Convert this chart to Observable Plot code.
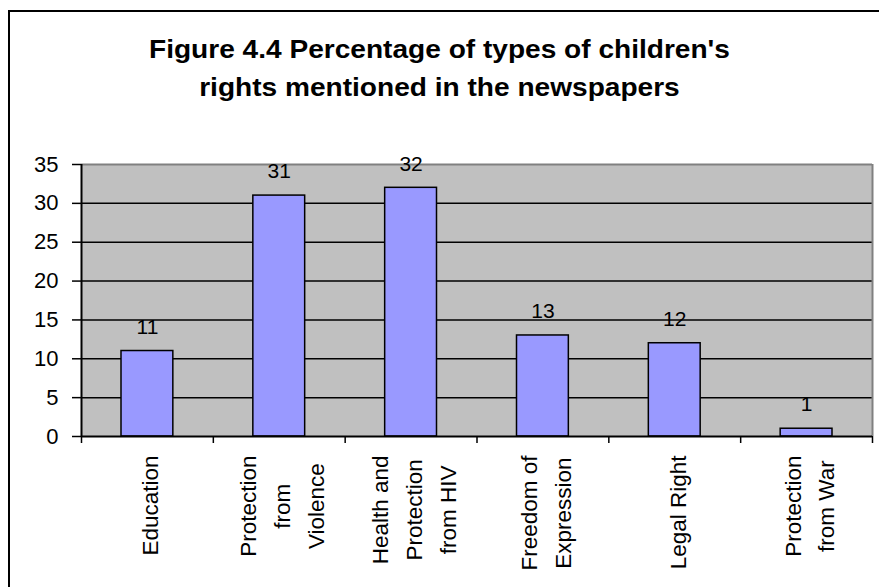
<!DOCTYPE html>
<html>
<head>
<meta charset="utf-8">
<script src="https://cdn.jsdelivr.net/npm/d3@7"></script>
<script src="https://cdn.jsdelivr.net/npm/@observablehq/plot@0.6"></script>
<style>
  html, body { margin: 0; padding: 0; background: #fff; }
  #wrap { position: relative; width: 879px; height: 587px; overflow: hidden; background: #fff; font-family: "Liberation Sans", Arial, sans-serif; }
  #border { position: absolute; left: 8px; top: 10px; width: 2000px; height: 2000px; border-left: 2px solid #000; border-top: 2px solid #000; }
  #title { position: absolute; left: 0; top: 30px; width: 879px; text-align: center; font-weight: bold; font-size: 26px; line-height: 38px; color: #000; transform: scaleX(1.08); transform-origin: 440px 0; }
  #chart { position: absolute; left: 0; top: 150px; }
</style>
</head>
<body>
<div id="wrap">
  <div id="border"></div>
  <div id="title">Figure 4.4 Percentage of types of children's<br>rights mentioned in the newspapers</div>
  <div id="chart"></div>
</div>
<script>
const categories = [
  "Education",
  "Protection\nfrom\nViolence",
  "Health and\nProtection\nfrom HIV",
  "Freedom of\nExpression",
  "Legal Right",
  "Protection\nfrom War"
];
const values = [11, 31, 32, 13, 12, 1];
const yTicks = [0, 5, 10, 15, 20, 25, 30, 35];
const gridLines = [5, 10, 15, 20, 25, 30];

const data = categories.map((c, i) => ({ i, label: c, value: values[i] }));

const labelFontSize = 22.5;
const ctx = document.createElement("canvas").getContext("2d");
ctx.font = `${labelFontSize}px 'Liberation Sans', Arial, sans-serif`;
const longest = s => d3.max(s.split("\n"), line => ctx.measureText(line).width);

const labelMarks = data.map(d => Plot.text([d], {
  x: e => e.i + 0.5, frameAnchor: "bottom", text: "label",
  rotate: -90, textAnchor: "middle", lineAnchor: "middle", lineHeight: 1.5,
  dy: 19 + longest(d.label) / 2, fontSize: labelFontSize, fill: "#000"
}));

const chart = Plot.plot({
  width: 879,
  height: 437,
  marginLeft: 81,
  marginRight: 7,
  marginTop: 14,
  marginBottom: 151,
  style: { fontFamily: "'Liberation Sans', Arial, sans-serif", background: "transparent", color: "#000" },
  x: { type: "linear", domain: [0, categories.length], axis: null },
  y: { domain: [0, 35], axis: null },
  marks: [
    Plot.frame({ fill: "#c0c0c0", stroke: null }),
    Plot.ruleY(gridLines, { stroke: "#000", strokeWidth: 1.5 }),
    Plot.ruleY([35], { stroke: "#808080", strokeWidth: 2 }),
    Plot.ruleX([categories.length], { y1: 0, y2: 35, stroke: "#808080", strokeWidth: 2 }),
    Plot.rectY(data, {
      x1: d => d.i, x2: d => d.i + 1, y1: 0, y2: "value",
      insetLeft: 40, insetRight: 40,
      fill: "#9999ff", stroke: "#000", strokeWidth: 1.5
    }),
    Plot.ruleY([0], { stroke: "#000", strokeWidth: 2 }),
    Plot.ruleX([0], { y1: 0, y2: 35, stroke: "#000", strokeWidth: 2 }),
    Plot.axisY({ ticks: yTicks, label: null, tickSize: 9, tickPadding: 14, fontSize: 22, stroke: "#000", strokeWidth: 1.5, tickFormat: d => String(d) }),
    Plot.axisX({ ticks: d3.range(categories.length + 1), label: null, tickSize: 7, tickFormat: () => "", stroke: "#000", strokeWidth: 1.5 }),
    Plot.text(data, { x: d => d.i + 0.5, y: "value", text: d => String(d.value), dy: -24, fontSize: 21, fill: "#000", lineAnchor: "middle" }),
    ...labelMarks
  ]
});
document.getElementById("chart").appendChild(chart);
</script>
</body>
</html>
